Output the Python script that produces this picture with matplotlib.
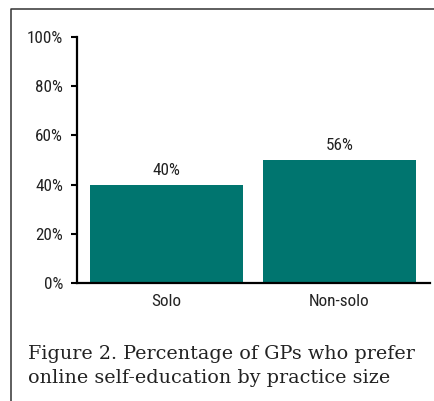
import matplotlib
matplotlib.use("Agg")
import matplotlib.pyplot as plt
from matplotlib.lines import Line2D

categories = ["Solo", "Non-solo"]
values = [40, 50]
value_labels = ["40%", "56%"]
yticks = [0, 20, 40, 60, 80, 100]
ytick_labels = ["0%", "20%", "40%", "60%", "80%", "100%"]
caption = "Figure 2. Percentage of GPs who prefer\nonline self-education by practice size"

W, H = 435, 401
fig = plt.figure(figsize=(W / 100, H / 100), dpi=100)
fig.patch.set_facecolor("white")

cond = ["Roboto Condensed", "Open Sans Condensed", "Roboto", "DejaVu Sans"]
fs = 12.3

ax = fig.add_axes([77 / W, 1 - 283 / H, 353 / W, (283 - 37) / H])
x = list(range(len(categories)))
ax.bar(x, values, width=0.884, color="#00756F", zorder=2)
ax.set_xlim(-0.517, 1.523)
ax.set_ylim(0, 100)
ax.set_yticks(yticks)
ax.set_yticklabels(ytick_labels, family=cond, fontsize=fs, color="#222222")
ax.set_xticks(x)
ax.set_xticklabels(categories, family=cond, fontsize=fs, color="#222222")
ax.tick_params(axis="x", length=0, pad=8)
ax.tick_params(axis="y", length=4, width=1.5, pad=6, direction="out")
for s in ["top", "right"]:
    ax.spines[s].set_visible(False)
for s in ["left", "bottom"]:
    ax.spines[s].set_linewidth(1.6)
    ax.spines[s].set_color("black")
    ax.spines[s].set_zorder(3)

for xi, v, lab in zip(x, values, value_labels):
    ax.annotate(lab, (xi, v), xytext=(0, 5), textcoords="offset points",
                ha="center", va="bottom", family=cond, fontsize=fs, color="#222222")

# frame
fig.add_artist(Line2D([11 / W, 11 / W, 1.0], [0.0, 1 - 9 / H, 1 - 9 / H],
                      transform=fig.transFigure, color="#333333", lw=1.1))

fig.text(28 / W, 1 - 345 / H, caption, ha="left", va="top",
         family=["DejaVu Serif"], fontsize=13.8, color="#222222", linespacing=1.42)

fig.savefig("out.png", dpi=100)
